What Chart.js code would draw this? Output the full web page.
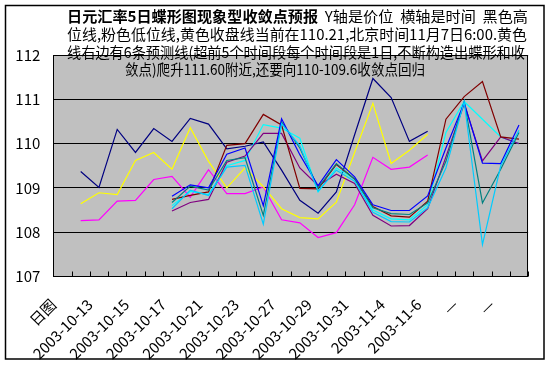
<!DOCTYPE html>
<html>
<head>
<meta charset="utf-8">
<script src="https://cdn.jsdelivr.net/npm/chart.js@4.4.1/dist/chart.umd.min.js"></script>
<style>
html,body{margin:0;padding:0;background:#fff;}
#wrap{width:551px;height:366px;position:relative;}
canvas{display:block;}
</style>
</head>
<body>
<div id="wrap"><canvas id="c" width="551" height="366"></canvas></div>
<script>
// ---- data ----
const categories = ['日图','2003-10-10','2003-10-13','2003-10-14','2003-10-15','2003-10-16','2003-10-17','2003-10-20','2003-10-21','2003-10-22','2003-10-23','2003-10-24','2003-10-27','2003-10-28','2003-10-29','2003-10-30','2003-10-31','2003-11-3','2003-11-4','2003-11-5','2003-11-6','—','—','—','—','—'];
const yTicks = [107,108,109,110,111,112];
const high  = [null,109.37,109.01,110.32,109.80,110.34,110.05,110.57,110.44,109.88,109.94,110.04,109.40,108.72,108.43,108.91,110.20,111.47,111.04,110.05,110.28,null,null,null,null,null];
const low   = [null,108.26,108.28,108.70,108.72,109.19,109.26,108.79,109.41,108.87,108.87,109.02,108.28,108.21,107.88,107.99,108.62,109.69,109.42,109.47,109.74,null,null,null,null,null];
const close = [null,108.64,108.89,108.85,109.62,109.80,109.42,110.36,109.60,109.00,109.45,109.03,108.53,108.33,108.30,108.68,109.80,110.91,109.55,109.85,110.21,null,null,null,null,null];
const fcCyan   = [null,null,null,null,null,null,108.60,108.92,108.85,109.50,109.62,110.43,110.35,110.12,108.91,109.45,109.20,108.50,108.30,108.28,108.62,110.25,110.95,110.55,110.15,110.00];
const fcPurple = [null,null,null,null,null,null,108.48,108.67,108.74,109.58,109.72,110.23,110.23,109.45,109.05,109.31,109.10,108.38,108.14,108.15,108.53,109.70,110.90,109.61,110.15,110.00];
const fcMaroon = [null,null,null,null,null,null,108.74,108.83,108.91,109.96,110.00,110.66,110.42,108.99,108.98,109.53,109.20,108.58,108.37,108.34,108.70,110.55,111.06,111.40,110.15,110.10];
const fcTeal   = [null,null,null,null,null,null,108.67,109.04,108.95,109.62,109.68,108.38,110.49,109.90,109.00,109.55,109.20,108.55,108.42,108.40,108.66,109.60,110.95,108.66,109.42,110.25];
const fcBlue   = [null,null,null,null,null,null,108.81,109.07,109.00,109.76,109.90,108.60,110.56,109.75,109.05,109.64,109.25,108.62,108.49,108.49,108.82,109.90,110.92,109.56,109.55,110.42];
const fcSky    = [null,null,null,null,null,null,108.53,108.95,108.83,109.47,109.51,108.18,110.45,109.95,108.93,109.40,109.15,108.45,108.24,108.23,108.55,109.45,110.95,107.72,109.50,110.30];
const titleLines = [
  [['日元汇率5日蝶形图现象型收敛点预报', true], ['  Y轴是价位  横轴是时间  黑色高', false]],
  [['位线,粉色低位线,黄色收盘线当前在110.21,北京时间11月7日6:00.黄色', false]],
  [['线右边有6条预测线(超前5个时间段每个时间段是1日,不断构造出蝶形和收', false]],
  [['敛点)爬升111.60附近,还要向110-109.6收敛点回归', false]]
];

// ---- styles / layout ----
const FONT = "'Noto Sans CJK SC', 'Liberation Serif', sans-serif";
const titleBoxes = [ {x:67, w:461, y:16}, {x:67, w:460, y:34}, {x:67, w:458, y:52}, {x:125, w:300, y:69} ];
const seriesDefs = [
  ['high', high, '#000080'], ['low', low, '#FF00FF'], ['close', close, '#FFFF00'],
  ['f1', fcCyan, '#00FFFF'], ['f2', fcPurple, '#800080'], ['f3', fcMaroon, '#800000'],
  ['f4', fcTeal, '#008080'], ['f5', fcBlue, '#0000FF'], ['f6', fcSky, '#00CCFF']
];

const decor = {
  id: 'decor',
  beforeDraw(chart) {
    const {ctx, chartArea: a} = chart;
    ctx.save();
    ctx.fillStyle = '#fff';
    ctx.fillRect(0, 0, chart.width, chart.height);
    ctx.fillStyle = '#C0C0C0';
    ctx.fillRect(a.left, a.top, a.right - a.left, a.bottom - a.top);
    ctx.strokeStyle = '#000';
    ctx.lineWidth = 1.5;
    ctx.strokeRect(5.5, 5.5, 538.5, 353.5);
    ctx.restore();
  },
  afterDraw(chart) {
    const {ctx, chartArea: a, scales} = chart;
    ctx.save();
    ctx.strokeStyle = '#000';
    ctx.lineWidth = 1;
    ctx.strokeRect(Math.round(a.left) + 0.5, Math.round(a.top) + 0.5, Math.round(a.right - a.left) - 1, Math.round(a.bottom - a.top) - 1);
    // inner tick marks at category boundaries
    const xs = scales.x;
    const n = categories.length;
    const step = xs.getPixelForValue(1) - xs.getPixelForValue(0);
    ctx.beginPath();
    for (let i = 0; i <= n; i++) {
      const px = Math.round(xs.getPixelForValue(i) - step / 2) + 0.5;
      ctx.moveTo(px, a.bottom);
      ctx.lineTo(px, a.bottom - 5);
    }
    ctx.stroke();
    // title
    ctx.fillStyle = '#000';
    ctx.textBaseline = 'middle';
    ctx.textAlign = 'left';
    titleLines.forEach((parts, li) => {
      const box = titleBoxes[li];
      let total = 0;
      const widths = parts.map(([t, b]) => {
        ctx.font = (b ? 'bold ' : '') + '15px ' + FONT;
        const w = ctx.measureText(t).width; total += w; return w;
      });
      const s = box.w / total;
      ctx.save();
      ctx.translate(box.x, box.y);
      ctx.scale(s, 1);
      let x = 0;
      parts.forEach(([t, b], k) => {
        ctx.font = (b ? 'bold ' : '') + '15px ' + FONT;
        ctx.fillText(t, x, 0);
        x += widths[k];
      });
      ctx.restore();
    });
    ctx.restore();
  }
};

new Chart(document.getElementById('c'), {
  type: 'line',
  data: {
    labels: categories,
    datasets: seriesDefs.map(([name, d, col], i) => ({
      label: name, data: d, borderColor: col, backgroundColor: col,
      borderWidth: 1.2, pointRadius: 0, tension: 0, fill: false, spanGaps: false,
      order: seriesDefs.length - i
    }))
  },
  options: {
    responsive: false, animation: false, devicePixelRatio: 1,
    layout: { padding: { top: 55, right: 15.3, bottom: 0, left: 0 } },
    plugins: { legend: { display: false }, title: { display: false }, tooltip: { enabled: false } },
    scales: {
      x: {
        type: 'category', offset: true,
        grid: { display: false, drawTicks: false },
        border: { display: false },
        ticks: {
          autoSkip: false, maxRotation: 45, minRotation: 45, labelOffset: -9, padding: 19,
          color: '#000', font: { size: 15, family: FONT },
          callback: (v, i) => (i % 2 === 0 ? categories[i] : '')
        },
        afterFit: s => { s.height = 89.5; }
      },
      y: {
        min: yTicks[0], max: yTicks[yTicks.length - 1],
        afterBuildTicks: s => { s.ticks = yTicks.map(v => ({ value: v })); },
        grid: { color: '#000', lineWidth: 1, drawTicks: false },
        border: { display: true, color: '#000' },
        ticks: { color: '#000', padding: 13, font: { size: 15, family: FONT } },
        afterFit: s => { s.width = 53.3; }
      }
    }
  },
  plugins: [decor]
});
</script>
</body>
</html>
